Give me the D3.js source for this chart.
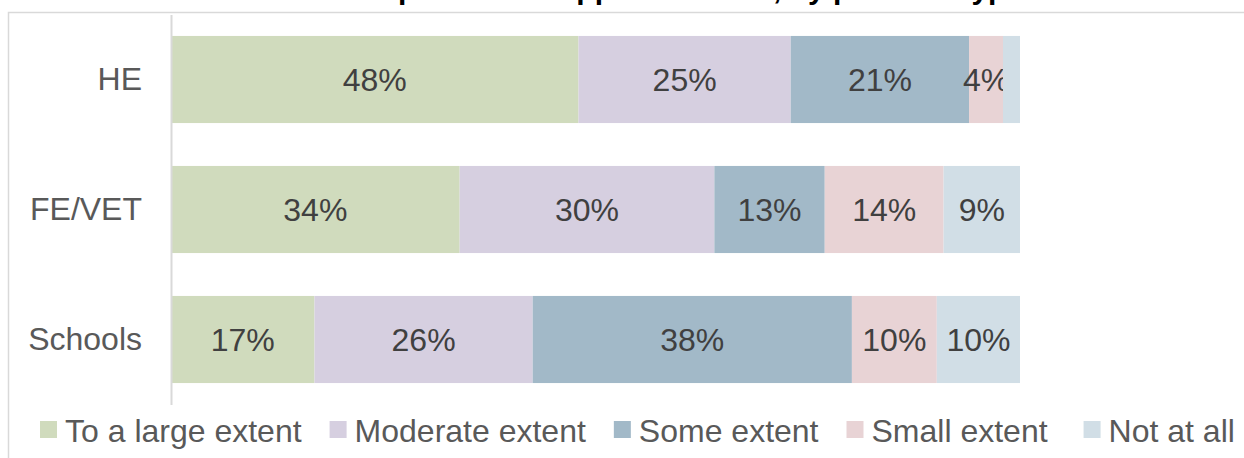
<!DOCTYPE html>
<html>
<head>
<meta charset="utf-8">
<script src="https://cdn.jsdelivr.net/npm/d3@7"></script>
<style>
    body { margin: 0; background: #fff; }
    svg { display: block; font-family: "Liberation Sans", Arial, sans-serif; }
</style>
</head>
<body>
<div id="chart"></div>
<script>
//data
var categories = ["HE", "FE/VET", "Schools"];
var seriesNames = ["To a large extent", "Moderate extent", "Some extent", "Small extent", "Not at all"];
var largeExtent    = [48, 34, 16.9];
var moderateExtent = [25, 30, 25.7];
var someExtent     = [21, 13, 37.6];
var smallExtent    = [4, 14, 10.0];
var notAtAll       = [2, 9, 9.8];
var colours = ["#d0dbbd", "#d6cfe0", "#a2b9c8", "#e8d3d5", "#d1dee6"];
var titleText = "Extent of adoption of an approach used, by provider type";

(function() {
    var width = 1244, height = 458;
    var series = [largeExtent, moderateExtent, someExtent, smallExtent, notAtAll];

    //table for the stack
    var table = categories.map(function(c, i) {
        var row = {category: c};
        seriesNames.forEach(function(s, j) { row[s] = series[j][i]; });
        return row;
    });
    var stacked = d3.stack().keys(seriesNames)(table);

    var svg = d3.select("#chart").append("svg")
        .attr("width", width)
        .attr("height", height);

    //outer frame
    svg.append("rect")
        .attr("x", 8.5).attr("y", 12.5)
        .attr("width", width + 20).attr("height", height + 20)
        .attr("fill", "none")
        .attr("stroke", "#d9d9d9")
        .attr("stroke-width", 1.5);

    //title (cut off above the frame, as in the source image)
    svg.append("text")
        .attr("x", 208)
        .attr("y", -1)
        .attr("font-size", 30)
        .attr("font-weight", "bold")
        .attr("fill", "#000")
        .text(titleText);

    //scales
    var xScale = d3.scaleLinear().domain([0, 100]).range([171, 1020]);
    var yScale = d3.scaleBand().domain(categories)
        .range([14.5, 404.5])
        .paddingInner(0.33)
        .paddingOuter(0.165);

    //bars
    var groups = svg.selectAll(".series")
        .data(stacked)
        .enter().append("g")
        .attr("class", "series")
        .attr("fill", function(d, i) { return colours[i]; });

    groups.selectAll("rect")
        .data(function(d) { return d; })
        .enter().append("rect")
        .attr("x", function(d) { return xScale(d[0]); })
        .attr("y", function(d) { return yScale(d.data.category); })
        .attr("width", function(d) { return xScale(d[1]) - xScale(d[0]); })
        .attr("height", yScale.bandwidth());

    //value labels
    groups.selectAll("text")
        .data(function(d) { return d.filter(function(p) { return p[1] - p[0] >= 3; }); })
        .enter().append("text")
        .attr("x", function(d) { return (xScale(d[0]) + xScale(d[1])) / 2; })
        .attr("y", function(d) { return yScale(d.data.category) + yScale.bandwidth() / 2; })
        .attr("dy", "0.36em")
        .attr("text-anchor", "middle")
        .attr("font-size", 32)
        .attr("fill", "#404040")
        .text(function(d) { return Math.round(d[1] - d[0]) + "%"; });

    //y axis
    var yAxis = svg.append("g")
        .attr("transform", "translate(171,0)")
        .call(d3.axisLeft(yScale).tickSize(0).tickPadding(29));
    yAxis.select(".domain")
        .attr("stroke", "#d9d9d9")
        .attr("stroke-width", 2);
    yAxis.selectAll("text")
        .attr("font-size", 32)
        .attr("font-family", "\"Liberation Sans\", Arial, sans-serif")
        .attr("fill", "#595959");

    //legend
    var legend = svg.append("g").attr("transform", "translate(0,430)");
    var lx = 40;
    seriesNames.forEach(function(s, i) {
        legend.append("rect")
            .attr("x", lx).attr("y", -9)
            .attr("width", 17).attr("height", 17)
            .attr("fill", colours[i]);
        var t = legend.append("text")
            .attr("x", lx + 25)
            .attr("dy", "0.36em")
            .attr("font-size", 32)
            .attr("fill", "#595959")
            .text(s);
        lx += 25 + t.node().getComputedTextLength() + (i == 3 ? 36 : 28);
    });
})();
</script>
</body>
</html>
